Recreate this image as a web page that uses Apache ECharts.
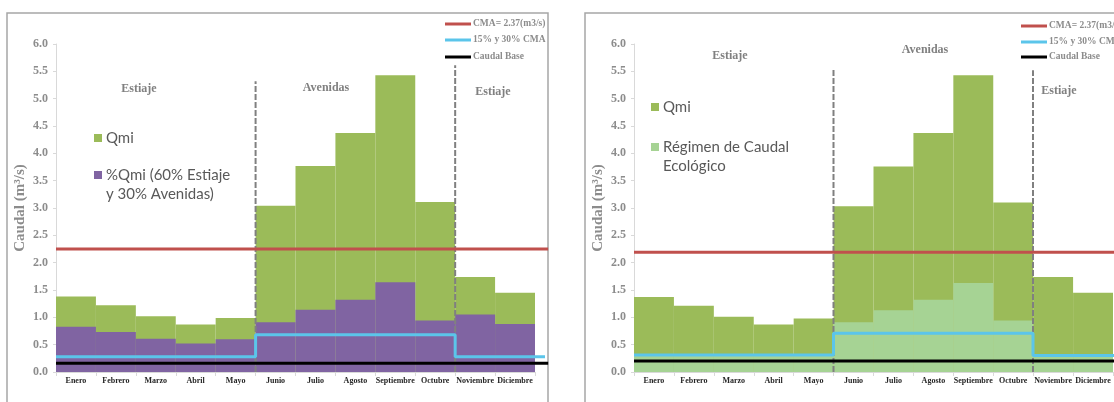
<!DOCTYPE html>
<html>
<head>
<meta charset="utf-8">
<script src="https://cdn.jsdelivr.net/npm/echarts@6/dist/echarts.min.js"></script>
<style>
  html, body { margin: 0; padding: 0; background: #fff; }
  #chart { width: 1114px; height: 402px; }
</style>
</head>
<body>
<div id="chart"></div>
<script>
const months = ['Enero', 'Febrero', 'Marzo', 'Abril', 'Mayo', 'Junio', 'Julio', 'Agosto', 'Septiembre', 'Octubre', 'Noviembre', 'Diciembre']
const yTicks = [0, 0.5, 1, 1.5, 2, 2.5, 3, 3.5, 4, 4.5, 5, 5.5, 6]

// left chart
const qmiLeft = [1.38, 1.22, 1.02, 0.87, 0.99, 3.04, 3.77, 4.37, 5.43, 3.11, 1.74, 1.45]
const pctQmi = [0.83, 0.73, 0.61, 0.52, 0.60, 0.91, 1.14, 1.32, 1.64, 0.94, 1.05, 0.88]
const cmaLeft = [[0, 2.25], [12.33, 2.25]]
const pctCmaLeft = [[0, 0.28], [5, 0.28], [5, 0.68], [10, 0.68], [10, 0.28], [12.25, 0.28]]
const baseLeft = [[0, 0.16], [12.33, 0.16]]
const breaksLeft = [[[5, 0], [5, 5.32]], [[10, 0], [10, 5.61]]]

// right chart (cut off by the right edge)
const qmiRight = [1.37, 1.21, 1.01, 0.87, 0.98, 3.03, 3.76, 4.37, 5.43, 3.10, 1.74, 1.45]
const regimen = [0.30, 0.30, 0.30, 0.30, 0.30, 0.91, 1.13, 1.32, 1.63, 0.94, 0.30, 0.30]
const cmaRight = [[0, 2.19], [12.03, 2.19]]
const pctCmaRight = [[0, 0.31], [5, 0.31], [5, 0.71], [10, 0.71], [10, 0.30], [12.03, 0.30]]
const baseRight = [[0, 0.20], [12.03, 0.20]]
const breaksRight = [[[5, 0], [5, 5.55]], [[10, 0], [10, 5.52]]]

const GREEN = '#9bbb59'
const PURPLE = '#8064a2'
const LIGHT = '#a6d394'
const RED = '#c0504d'
const BLUE = '#5bc5ea'
const GRAY = '#808080'
const SERIF = 'Liberation Serif'

// one category is 479/12 px wide; the line grids are wider so lines can run past Diciembre
const CAT_W = 479 / 12
const MAX_LEFT = 12.33
const MAX_RIGHT = 12.03

function catAxis(grid) {
  return {
    type: 'category',
    gridIndex: grid,
    data: months,
    axisLine: { lineStyle: { color: '#d9d9d9' } },
    axisTick: { show: true, length: 4, lineStyle: { color: '#d9d9d9' } },
    axisLabel: { interval: 0, margin: 5, fontFamily: SERIF, fontWeight: 'bold', fontSize: 8, color: '#262626' },
  }
}
function valXAxis(grid, max) {
  return { type: 'value', gridIndex: grid, min: 0, max: max, show: false }
}
function hiddenYAxis(grid) {
  return { type: 'value', gridIndex: grid, min: 0, max: 6, show: false }
}
function valYAxis(grid) {
  return {
    type: 'value',
    gridIndex: grid,
    min: 0,
    max: 6,
    interval: 0.5,
    name: 'Caudal (m³/s)',
    nameLocation: 'middle',
    nameRotate: 90,
    nameGap: 28,
    nameTextStyle: { fontFamily: SERIF, fontWeight: 'bold', fontSize: 15, color: '#8c8c8c' },
    splitLine: { show: false },
    axisLine: { show: true, lineStyle: { color: '#d9d9d9' } },
    axisTick: { show: true, length: 3, lineStyle: { color: '#d9d9d9' } },
    axisLabel: {
      margin: 8,
      fontFamily: SERIF,
      fontWeight: 'bold',
      fontSize: 12,
      color: '#8c8c8c',
      formatter: v => (yTicks.includes(v) ? v.toFixed(1) : ''),
    },
  }
}
function line(xi, yi, data, color, width, z) {
  return {
    type: 'line',
    xAxisIndex: xi,
    yAxisIndex: yi,
    data: data,
    symbol: 'none',
    silent: true,
    z: z,
    lineStyle: { color: color, width: width },
  }
}
function dashed(xi, yi, data) {
  const s = line(xi, yi, data, GRAY, 2, 4)
  s.lineStyle.type = [6, 2]
  return s
}

function txt(x, y, text, style) {
  return { type: 'text', x: x, y: y, style: Object.assign({ text: text, fill: GRAY, textVerticalAlign: 'middle' }, style) }
}
function seasonText(x, y, text) {
  return txt(x, y, text, { font: 'bold 12px "Liberation Serif"', textAlign: 'center' })
}
function swatch(x, y, color) {
  return { type: 'rect', shape: { x: x, y: y - 4, width: 8, height: 8 }, style: { fill: color } }
}
function legendLine(x, y, color, label) {
  return [
    { type: 'line', shape: { x1: x, y1: y, x2: x + 26, y2: y }, style: { stroke: color, lineWidth: 3 } },
    txt(x + 28, y, label, { font: 'bold 9.5px "Liberation Serif"', fill: '#8c8c8c' }),
  ]
}
function sansText(x, y, text) {
  return txt(x, y, text, { font: '15px Lato', fill: '#595959' })
}

const graphics = [
  { type: 'rect', shape: { x: 7, y: 13, width: 541, height: 420 }, style: { fill: 'none', stroke: '#a6a6a6', lineWidth: 1.5 }, z: -1 },
  { type: 'rect', shape: { x: 585, y: 13, width: 560, height: 420 }, style: { fill: 'none', stroke: '#a6a6a6', lineWidth: 1.5 }, z: -1 },
  seasonText(139, 89, 'Estiaje'),
  seasonText(326, 88, 'Avenidas'),
  seasonText(493, 92, 'Estiaje'),
  seasonText(730, 56, 'Estiaje'),
  seasonText(925, 50, 'Avenidas'),
  seasonText(1059, 91, 'Estiaje'),
  swatch(94, 138, GREEN),
  sansText(106, 138, 'Qmi'),
  swatch(94, 175, PURPLE),
  sansText(106, 175, '%Qmi (60% Estiaje'),
  sansText(106, 194, 'y 30% Avenidas)'),
  swatch(651, 107, GREEN),
  sansText(663, 107, 'Qmi'),
  swatch(651, 147, LIGHT),
  sansText(663, 147, 'Régimen de Caudal'),
  sansText(663, 166, 'Ecológico'),
  ...legendLine(445, 24, RED, 'CMA= 2.37(m3/s)'),
  ...legendLine(445, 40, BLUE, '15% y 30% CMA'),
  ...legendLine(445, 57, '#000', 'Caudal Base'),
  ...legendLine(1021, 26, RED, 'CMA= 2.37(m3/s)'),
  ...legendLine(1021, 42, BLUE, '15% y 30% CMA'),
  ...legendLine(1021, 57, '#000', 'Caudal Base'),
]

const chart = echarts.init(document.getElementById('chart'), null, { renderer: 'canvas' })
chart.setOption({
  animation: false,
  backgroundColor: '#fff',
  grid: [
    { left: 56, width: 479, top: 44, bottom: 30 },
    { left: 634, width: 479, top: 44, bottom: 30 },
    { left: 56, width: CAT_W * MAX_LEFT, top: 44, bottom: 30 },
    { left: 634, width: CAT_W * MAX_RIGHT, top: 44, bottom: 30 },
  ],
  xAxis: [catAxis(0), catAxis(1), valXAxis(2, MAX_LEFT), valXAxis(3, MAX_RIGHT)],
  yAxis: [valYAxis(0), valYAxis(1), hiddenYAxis(2), hiddenYAxis(3)],
  graphic: graphics,
  series: [
    { type: 'bar', name: 'Qmi', xAxisIndex: 0, yAxisIndex: 0, data: qmiLeft, barCategoryGap: 0, barGap: '-100%', itemStyle: { color: GREEN }, z: 1 },
    { type: 'bar', name: '%Qmi', xAxisIndex: 0, yAxisIndex: 0, data: pctQmi, barCategoryGap: 0, barGap: '-100%', itemStyle: { color: PURPLE }, z: 2 },
    dashed(2, 2, breaksLeft[0]),
    dashed(2, 2, breaksLeft[1]),
    line(2, 2, cmaLeft, RED, 3, 5),
    line(2, 2, pctCmaLeft, BLUE, 3, 5),
    line(2, 2, baseLeft, '#000', 3, 6),

    { type: 'bar', name: 'Qmi', xAxisIndex: 1, yAxisIndex: 1, data: qmiRight, barCategoryGap: 0, barGap: '-100%', itemStyle: { color: GREEN }, z: 1 },
    { type: 'bar', name: 'Régimen', xAxisIndex: 1, yAxisIndex: 1, data: regimen, barCategoryGap: 0, barGap: '-100%', itemStyle: { color: LIGHT }, z: 2 },
    dashed(3, 3, breaksRight[0]),
    dashed(3, 3, breaksRight[1]),
    line(3, 3, cmaRight, RED, 3, 5),
    line(3, 3, pctCmaRight, BLUE, 3, 5),
    line(3, 3, baseRight, '#000', 3, 6),
  ],
})
</script>
</body>
</html>
